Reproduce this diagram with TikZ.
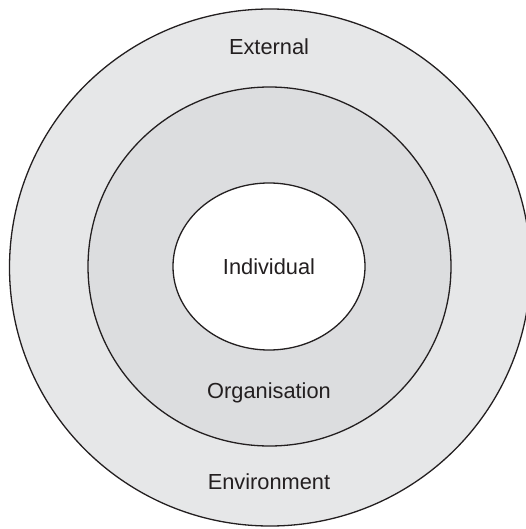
\documentclass[tikz,border=0pt]{standalone}
\usepackage{fontspec}
\setmainfont{Liberation Sans}
\usetikzlibrary{shapes.geometric}
\definecolor{ink}{HTML}{231F20}
\definecolor{outerg}{HTML}{E6E7E8}
\definecolor{midg}{HTML}{DCDDDF}
\tikzset{ring/.style={ellipse,draw=ink,line width=1.3pt,inner sep=0pt,outer sep=0pt},
         ptext/.style={text=ink,font=\fontsize{21.8}{26}\selectfont,inner sep=0pt}}
\begin{document}
\begin{tikzpicture}[x=1pt,y=-1pt]
 \useasboundingbox (0,0) rectangle (525,529);
 \node[ring,fill=outerg,minimum width=521pt,minimum height=517pt] (env) at (270,267.5) {};
 \node[ring,fill=midg,minimum width=363pt,minimum height=359pt] (org) at (269.5,266.5) {};
 \node[ring,fill=white,minimum width=192pt,minimum height=167pt,ptext] (ind) at (269,266.5) {Individual};
 \node[ptext] (ext) at (269,47) {External};
 \node[ptext] (orgtxt) at (269,393) {Organisation};
 \node[ptext] (envtxt) at (269,482) {Environment};
\end{tikzpicture}
\end{document}
